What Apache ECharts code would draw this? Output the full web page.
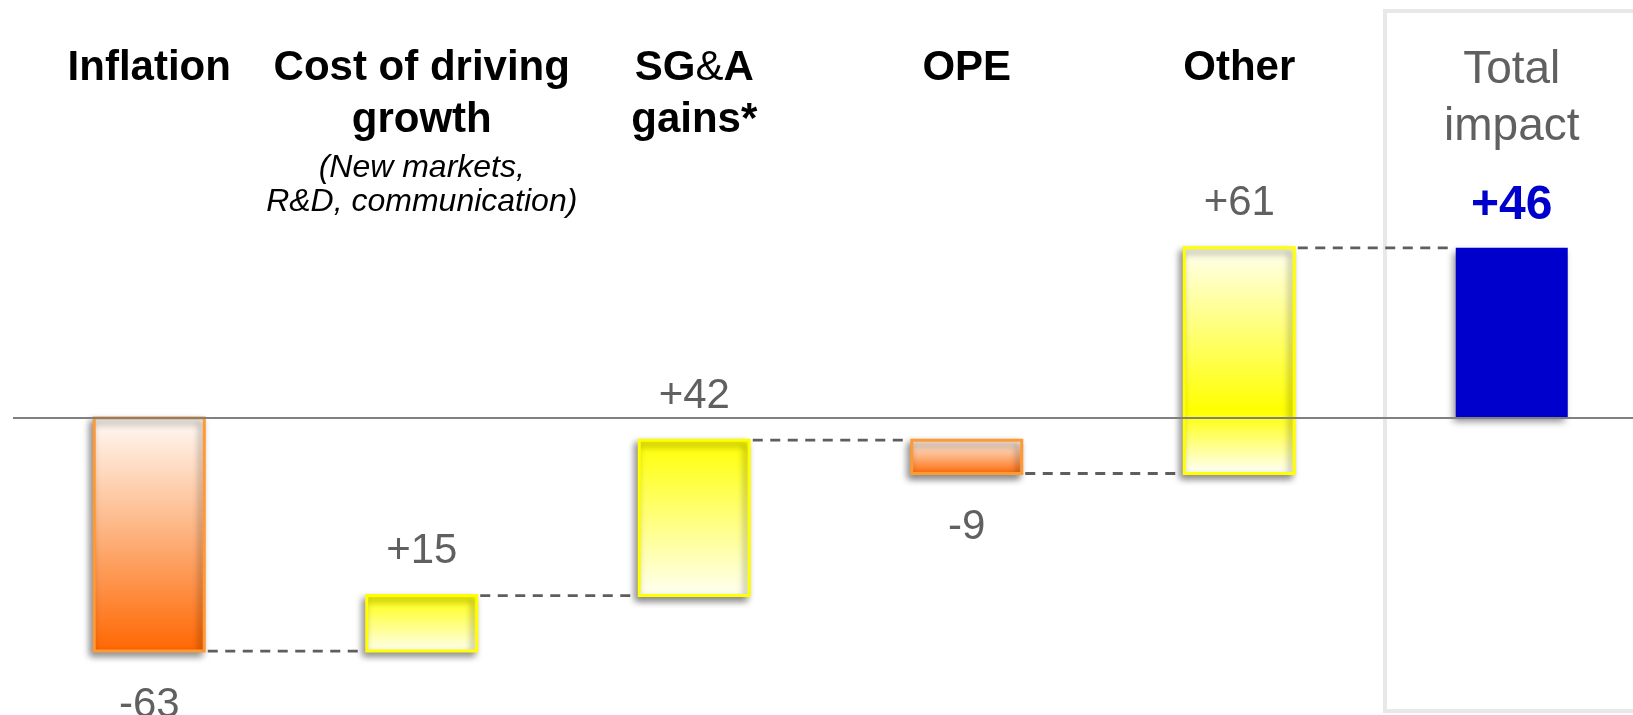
<!DOCTYPE html>
<html>
<head>
<meta charset="utf-8">
<script src="https://cdn.jsdelivr.net/npm/echarts@6/dist/echarts.min.js"></script>
<style>
  html, body { margin: 0; padding: 0; background: #ffffff; }
  #chart { width: 1633px; height: 715px; }
</style>
</head>
<body>
<div id="chart"></div>
<script>
// ---- Data -------------------------------------------------------------
const categories = ['Inflation', 'Cost of driving growth', 'SG&A gains*', 'OPE', 'Other', 'Total impact'];
const categoryLines = [['Inflation'], ['Cost of driving', 'growth'], ['SG&A', 'gains*'], ['OPE'], ['Other'], ['Total', 'impact']];
const categoryNotes = [[], ['(New markets,', 'R&D, communication)'], [], [], [], []];
const changes = [-63, 15, 42, -9, 61];   // step contributions
const totalImpact = 46;                  // resulting total

// ---- Styling constants ------------------------------------------------
const FONT = "'Liberation Sans', Arial, Helvetica, sans-serif";
const BAR_W = 110;
const ORANGE_EDGE = '#FF9933';
const YELLOW_EDGE = '#FFFF00';
const TOTAL_BLUE = '#0000CC';
const LABEL_GREY = '#606060';

function orangeFill() {
  return new echarts.graphic.LinearGradient(0, 0, 0, 1, [
    { offset: 0, color: '#FFFBF7' },
    { offset: 0.5, color: '#FDB27E' },
    { offset: 1, color: '#FF6600' }
  ]);
}
function yellowFillDown() {
  return new echarts.graphic.LinearGradient(0, 0, 0, 1, [
    { offset: 0, color: '#FFFF00' },
    { offset: 1, color: '#FFFFF4' }
  ]);
}
function yellowFillCross() {
  return new echarts.graphic.LinearGradient(0, 0, 0, 1, [
    { offset: 0, color: '#FFFFF2' },
    { offset: 0.72, color: '#FFFF00' },
    { offset: 1, color: '#FFFFFF' }
  ]);
}

// ---- Build waterfall rows (start / end on the value scale) -------------
const rows = [];
let running = 0;
changes.forEach((c, i) => {
  const start = running;
  running += c;
  rows.push({ idx: i, start: start, end: running, value: c, kind: c < 0 ? 'down' : 'up' });
});
rows.push({ idx: changes.length, start: 0, end: totalImpact, value: totalImpact, kind: 'total' });

function fmtValue(v) { return (v > 0 ? '+' : '') + v; }

function renderBar(params, api) {
  const row = rows[params.dataIndex];
  const pStart = api.coord([api.value(0), api.value(1)]);
  const pEnd = api.coord([api.value(0), api.value(2)]);
  const band = api.size([1, 0])[0];
  const cx = pStart[0];
  const yTop = Math.min(pStart[1], pEnd[1]);
  const yBot = Math.max(pStart[1], pEnd[1]);
  const children = [];

  let fill, stroke, lineWidth = 3, w = BAR_W;
  if (row.kind === 'down') {
    fill = orangeFill(); stroke = ORANGE_EDGE;
  } else if (row.kind === 'up') {
    fill = (row.start < 0 && row.end > 0) ? yellowFillCross() : yellowFillDown();
    stroke = YELLOW_EDGE;
  } else {
    fill = TOTAL_BLUE; stroke = null; lineWidth = 0; w = BAR_W + 2;
  }

  // dashed connector to the next bar at the running level
  if (params.dataIndex < rows.length - 1) {
    const edge = BAR_W / 2 + 1.5;
    children.push({
      type: 'line',
      shape: { x1: cx + edge + 2, y1: pEnd[1], x2: cx + band - edge, y2: pEnd[1] },
      style: { stroke: '#5E5E5E', lineWidth: 2.8, lineDash: [10, 7.5] },
      z2: 1
    });
  }

  children.push({
    type: 'rect',
    shape: { x: cx - w / 2, y: yTop, width: w, height: yBot - yTop },
    style: {
      fill: fill,
      stroke: stroke,
      lineWidth: lineWidth,
      shadowBlur: 7,
      shadowOffsetX: -3,
      shadowOffsetY: 4,
      shadowColor: 'rgba(0,0,0,0.45)'
    },
    z2: 2
  });

  const isTotal = row.kind === 'total';
  const labelY = row.value >= 0 ? yTop - (isTotal ? 42 : 44) : yBot + 54;
  children.push({
    type: 'text',
    style: {
      text: fmtValue(row.value),
      x: cx,
      y: labelY,
      align: 'center',
      verticalAlign: 'middle',
      font: (isTotal ? 'bold 48px ' : '42px ') + FONT,
      fill: isTotal ? TOTAL_BLUE : LABEL_GREY
    },
    z2: 3
  });

  return { type: 'group', children: children };
}

// horizontal baseline at value 0, drawn above the bars
function renderZeroLine(params, api) {
  const y = api.coord([0, 0])[1];
  return {
    type: 'line',
    shape: { x1: 13, y1: y, x2: 1633, y2: y },
    style: { stroke: '#808080', lineWidth: 2 }
  };
}

function categoryLabel(value, index) {
  const total = index === categories.length - 1;
  const parts = categoryLines[index].map(line => {
    if (total) return '{t|' + line + '}';
    return '{b|' + line.split('&').join('}{amp|&}{b|') + '}';
  });
  categoryNotes[index].forEach((note, k) => {
    parts.push('{' + (k === 0 ? 'i1' : 'i2') + '|' + note + '}');
  });
  return parts.join('\n');
}

const chart = echarts.init(document.getElementById('chart'), null, { renderer: 'canvas' });

chart.setOption({
  animation: false,
  backgroundColor: '#ffffff',
  grid: { left: 13, width: 1635, top: 11, height: 703, containLabel: false, outerBoundsMode: 'none' },
  graphic: [{
    type: 'rect',
    z: 0,
    shape: { x: 1385, y: 11, width: 320, height: 700 },
    style: { fill: 'rgba(0,0,0,0)', stroke: '#E8E8E8', lineWidth: 4 },
    silent: true
  }],
  xAxis: {
    type: 'category',
    position: 'top',
    data: categories,
    axisLine: { show: false },
    axisTick: { show: false },
    splitLine: { show: false },
    axisLabel: {
      inside: true,
      interval: 0,
      margin: 31,
      align: 'center',
      formatter: categoryLabel,
      rich: {
        b: { fontFamily: FONT, fontSize: 42, fontWeight: 'bold', color: '#000000', lineHeight: 52 },
        amp: { fontFamily: FONT, fontSize: 42, fontWeight: 'normal', color: '#000000', lineHeight: 52 },
        i1: { fontFamily: FONT, fontSize: 32, fontStyle: 'italic', color: '#000000', lineHeight: 45 },
        i2: { fontFamily: FONT, fontSize: 32, fontStyle: 'italic', color: '#000000', lineHeight: 22 },
        t: { fontFamily: FONT, fontSize: 46, color: LABEL_GREY, lineHeight: 57 }
      }
    }
  },
  yAxis: {
    type: 'value',
    min: -80,
    max: 110,
    show: false,
    splitLine: { show: false }
  },
  series: [{
    type: 'custom',
    renderItem: renderBar,
    encode: { x: 0, y: [1, 2] },
    data: rows.map(r => [r.idx, r.start, r.end]),
    clip: false,
    z: 2
  }, {
    type: 'custom',
    renderItem: renderZeroLine,
    data: [[0, 0]],
    silent: true,
    z: 5
  }]
});
</script>
</body>
</html>
